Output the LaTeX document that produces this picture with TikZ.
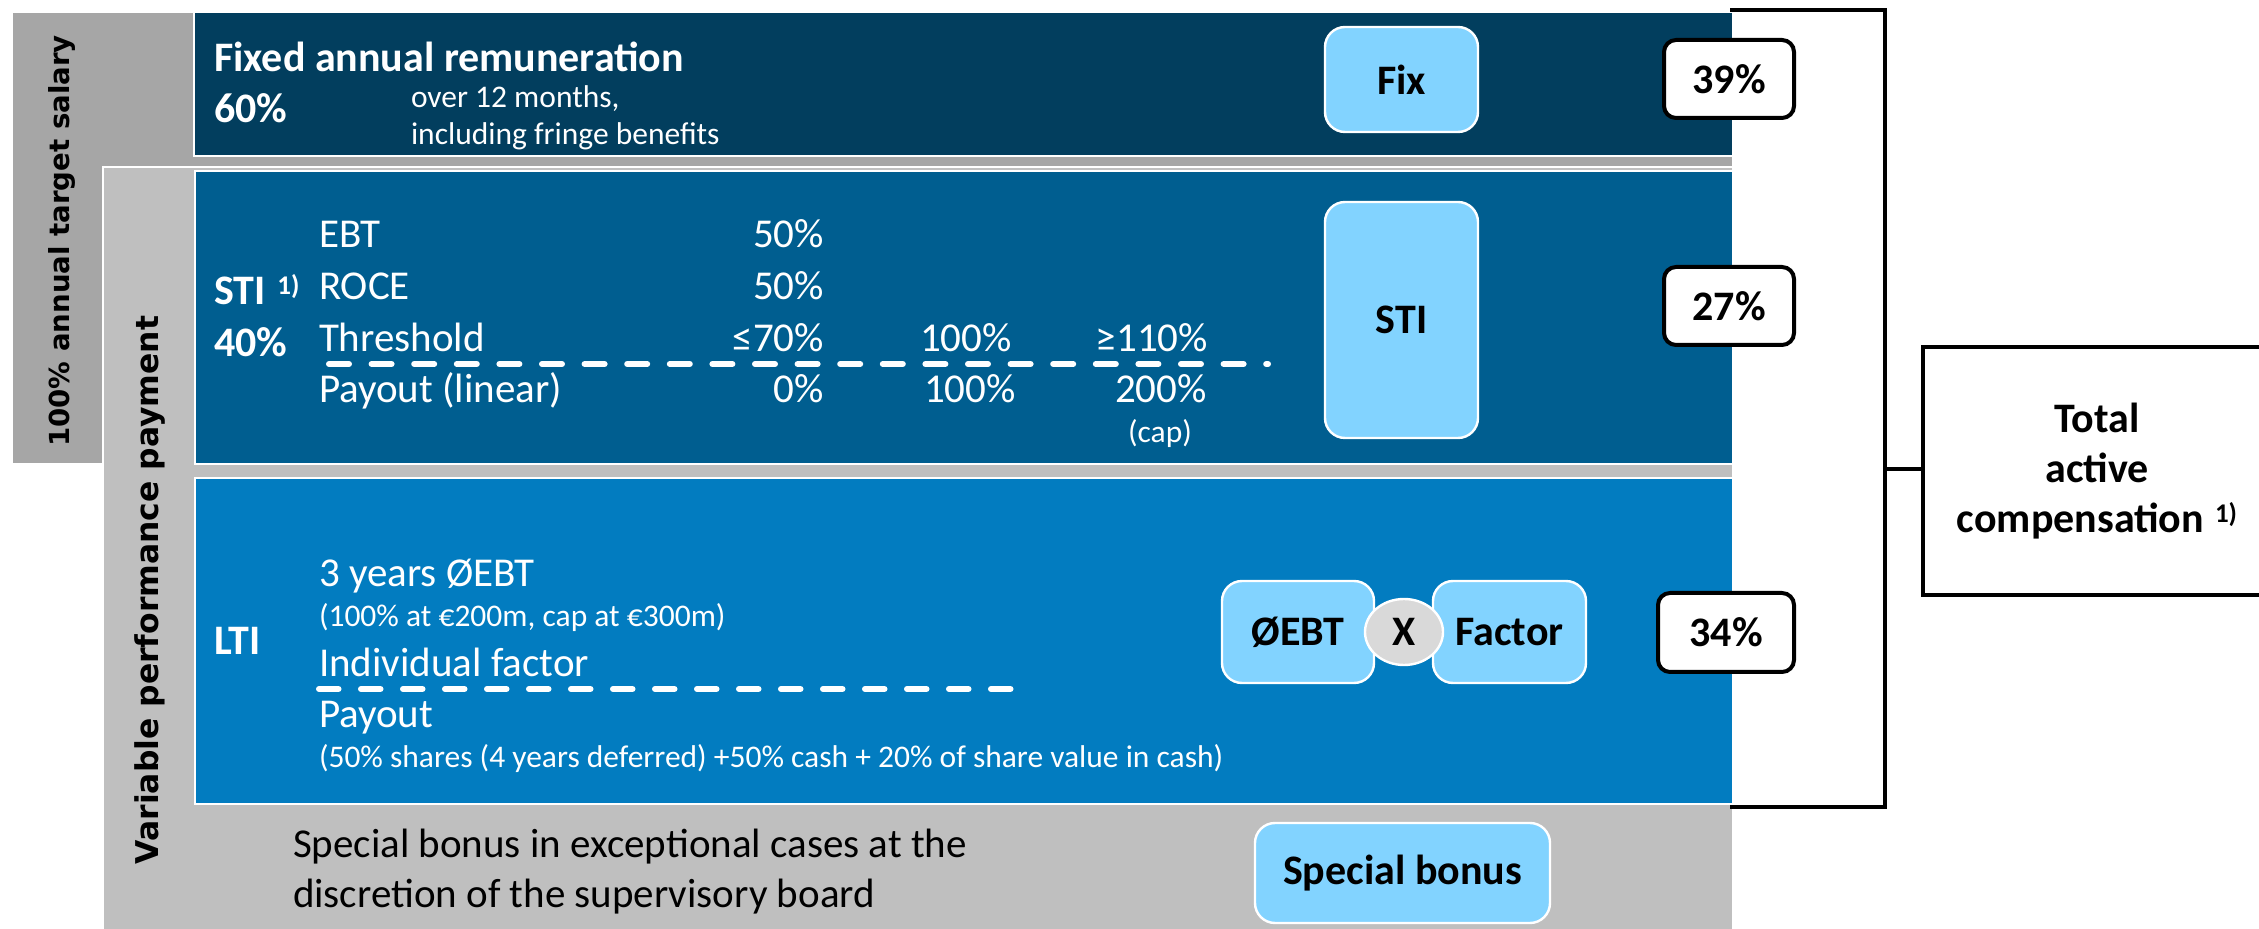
\documentclass[tikz,border=0pt]{standalone}
\usepackage{fontspec}
\setmainfont{Carlito}
\newfontfamily\sidefont{DejaVu Sans}
\usetikzlibrary{shapes.geometric}

\definecolor{annualgray}{HTML}{A6A6A6}
\definecolor{vargray}{HTML}{BFBFBF}
\definecolor{fixnavy}{HTML}{023E5E}
\definecolor{stiblue}{HTML}{005E90}
\definecolor{ltiblue}{HTML}{027CC0}
\definecolor{btnblue}{HTML}{82D3FF}
\definecolor{timesgray}{HTML}{D9D9D9}

\tikzset{
  wh/.style 2 args={minimum width=#1*0.5pt, minimum height=#2*0.5pt},
  panel/.style={draw=white, line width=1pt, anchor=north west, inner sep=0pt, outer sep=0pt},
  btn/.style={fill=btnblue, draw=white, line width=1.2pt, rounded corners=10pt,
    inner sep=0pt, text=black, font=\bfseries\fontsize{21}{25}\selectfont},
  pct/.style={fill=white, draw=black, line width=2pt, rounded corners=6pt, inner sep=0pt,
    text=black, font=\bfseries\fontsize{21}{25}\selectfont},
  txt/.style={inner sep=0pt, outer sep=0pt, anchor=base west, text=white,
    font=\fontsize{20.5}{24}\selectfont},
  bigtxt/.style={txt, font=\bfseries\fontsize{21}{25}\selectfont},
  smalltxt/.style={txt, font=\fontsize{15.75}{19}\selectfont},
  valtxt/.style={txt, anchor=base east},
  midtxt/.style={txt, anchor=base},
  sidelabel/.style={rotate=90, inner sep=0pt, text=black},
  divider/.style={draw=white, line width=3pt, line cap=round},
  bracket/.style={draw=black, line width=2pt},
}

\begin{document}
\begin{tikzpicture}[x=0.5pt, y=-0.5pt]
\useasboundingbox (0,0) rectangle (2259,929);

% background panels
\node[panel, fill=annualgray, wh={1721}{452}] (annual) at (12,12) {};
\node[panel, fill=vargray, wh={1630}{780}] (variable) at (103,167) {};
\node[panel, fill=fixnavy, wh={1539}{144}] (fixed) at (194,12) {};
\node[panel, fill=stiblue, wh={1538}{293}] (sti) at (195,171) {};
\node[panel, fill=ltiblue, wh={1538}{326}] (lti) at (195,478) {};

% rotated side labels
\node[sidelabel, font=\sidefont\bfseries\fontsize{13.8}{16}\selectfont] (annuallbl) at (62,241) {100\% annual target salary};
\node[sidelabel, font=\sidefont\bfseries\fontsize{15.7}{18}\selectfont] (varlbl) at (150,590) {Variable performance payment};

% fixed remuneration
\node[bigtxt] (fixtitle) at (214,72) {Fixed annual remuneration};
\node[bigtxt] (fixpct) at (214,123) {60\%};
\node[smalltxt] (fixnote1) at (411,108) {over 12 months,};
\node[smalltxt] (fixnote2) at (411,145) {including fringe benefits};
\node[btn, wh={153}{105}] (fixbtn) at (1401.5,79.5) {Fix};
\node[pct, wh={130}{78}] (pfix) at (1729,79) {39\%};

% short-term incentive
\node[bigtxt] (stititle) at (214,305) {STI\hspace{6pt}\raisebox{5pt}{\fontsize{13.5}{15}\selectfont 1)}};
\node[bigtxt] (stipct) at (214,357) {40\%};
\node[txt] (rebt) at (319,248) {EBT};
\node[txt] (rroce) at (319,300) {ROCE};
\node[txt] (rthr) at (319,352) {Threshold};
\node[txt] (rpay) at (319,403) {Payout (linear)};
\node[valtxt] (vebt) at (824,248) {50\%};
\node[valtxt] (vroce) at (824,300) {50\%};
\node[valtxt] (vthr) at (824,352) {≤70\%};
\node[valtxt] (vpay) at (824,403) {0\%};
\node[midtxt] (thrmid) at (966,352) {100\%};
\node[midtxt] (paymid) at (970,403) {100\%};
\node[midtxt] (thrmax) at (1152,352) {≥110\%};
\node[midtxt] (paymax) at (1161,403) {200\%};
\node[smalltxt, anchor=base] (capnote) at (1160,443) {(cap)};
\coordinate (stidashA) at (329,364);
\coordinate (stidashB) at (1268,364);
\draw[divider, dash pattern=on 10pt off 11.3pt] (stidashA) -- (stidashB);
\node[btn, wh={153}{236}] (stibtn) at (1401.5,320) {STI};
\node[pct, wh={130}{78}] (psti) at (1729,306) {27\%};

% long-term incentive
\node[bigtxt] (ltititle) at (214,655) {LTI};
\node[txt] (lebt) at (319,587) {3 years ØEBT};
\node[smalltxt] (lebtnote) at (319,627) {(100\% at €200m, cap at €300m)};
\node[txt] (lfac) at (319,677) {Individual factor};
\coordinate (ltidashA) at (319,689);
\coordinate (ltidashB) at (1016,689);
\draw[divider, dash pattern=on 9.75pt off 11.25pt] (ltidashA) -- (ltidashB);
\node[txt] (lpay) at (319,727) {Payout};
\node[smalltxt] (lpaynote) at (319,768) {(50\% shares (4 years deferred) +50\% cash + 20\% of share value in cash)};
\node[btn, wh={152}{102}] (ebtbtn) at (1298,632) {ØEBT};
\node[btn, wh={153}{102}] (facbtn) at (1509.5,632) {Factor};
\node[ellipse, fill=timesgray, draw=white, line width=1.2pt, inner sep=0pt, wh={78}{66},
  font=\bfseries\fontsize{21}{25}\selectfont, text=black] (times) at (1404,632) {X};
\node[pct, wh={136}{79}] (plti) at (1726,632.5) {34\%};

% special bonus
\node[txt, text=black] (sb1) at (293,857) {Special bonus in exceptional cases at the};
\node[txt, text=black] (sb2) at (293,907) {discretion of the supervisory board};
\node[btn, wh={295}{100}] (sbbtn) at (1402.5,873) {Special bonus};

% bracket gathering the three components
\coordinate (brTL) at (1730,10);
\coordinate (brTR) at (1885,10);
\coordinate (brBR) at (1885,807);
\coordinate (brBL) at (1730,807);
\coordinate (brM) at (1885,469);
\draw[bracket] (brTL) -- (brTR) -- (brBR) -- (brBL);
\node[draw=black, line width=2pt, fill=white, anchor=north west, inner sep=0pt, wh={348}{248},
  align=center, font=\bfseries\fontsize{21}{25}\selectfont] (total) at (1921,345)
  {Total\\active\\compensation\hspace{5.5pt}\raisebox{5pt}{\fontsize{13.5}{15}\selectfont 1)}};
\draw[bracket] (brM) -- (brM -| total.west);
\end{tikzpicture}
\end{document}
